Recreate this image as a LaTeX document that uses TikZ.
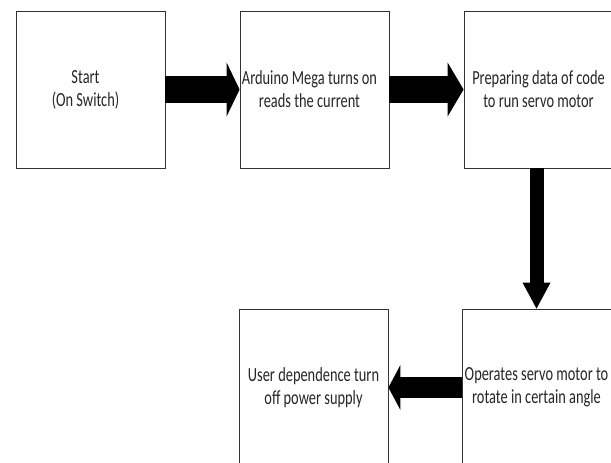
\documentclass[tikz,border=0pt]{standalone}
\usepackage{fontspec}
\setmainfont[FakeStretch=0.72]{Carlito}
\usetikzlibrary{arrows.meta}
\tikzset{
	stepbox/.style={draw=black!80, line width=0.8pt, minimum width=149pt, minimum height=157pt, inner sep=0pt, align=center, text=black!85, font=\fontsize{20}{23}\selectfont},
	flow/.style n args={3}{line width=#1, -{Triangle[length=#2, width=#3, line width=0pt]}}
}

\begin{document}
\begin{tikzpicture}[x=1pt, y=-1pt]
		%%%%% START %%%%%
		\useasboundingbox[fill=white] (0, 0) rectangle (611, 463);
		
		\node[stepbox] (start) at (90.5, 89.5) {Start\hspace*{10pt}\\(On Switch)\hspace*{10pt}};
		\node[stepbox] (mega) at (314.5, 89.5) {Arduino Mega turns on\hspace*{10pt}\\reads the current\hspace*{10pt}};
		\node[stepbox] (prep) at (538.5, 89.5) {Preparing data of code\\to run servo motor};
		\node[stepbox] (servo) at (536.5, 387.5) {Operates servo motor to\\rotate in certain angle};
		\node[stepbox] (user) at (313.5, 387.5) {User dependence turn\\off power supply};
		
		\draw[flow={27pt}{13pt}{54pt}] (start) -- (mega);
		\draw[flow={27pt}{16pt}{54pt}] (mega) -- (prep);
		\draw[flow={14pt}{26pt}{28pt}] (servo.north |- prep.south) -- (servo.north);
		\draw[flow={21pt}{12pt}{45pt}] (servo) -- (user);
		%%%%% END %%%%%
	\end{tikzpicture}
\end{document}
